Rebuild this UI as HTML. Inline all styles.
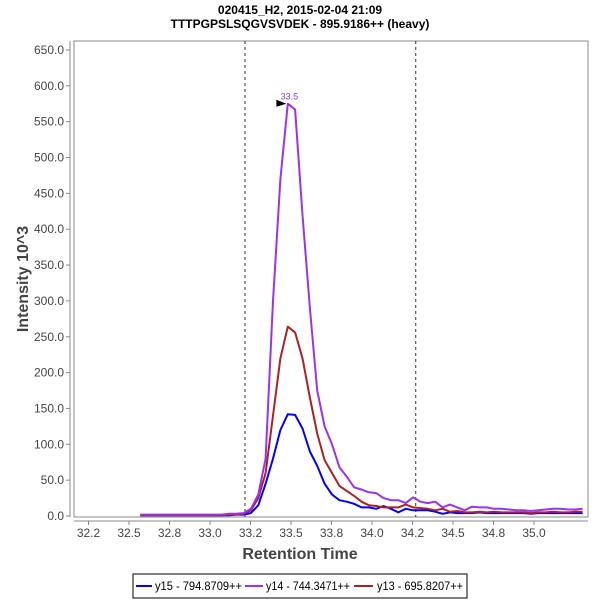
<!DOCTYPE html>
<html><head><meta charset="utf-8"><style>
body{margin:0;background:#fff;}
svg text{font-family:"Liberation Sans",sans-serif;}
</style></head><body>
<svg id="c" width="600" height="600" xmlns="http://www.w3.org/2000/svg">
<text x="300" y="14" text-anchor="middle" font-size="12" font-weight="bold">020415_H2, 2015-02-04 21:09</text>
<text x="300" y="28" text-anchor="middle" font-size="12" font-weight="bold">TTTPGPSLSQGVSVDEK - 895.9186++ (heavy)</text>
<rect x="74" y="41" width="514" height="476" fill="none" stroke="#888"/>
<g id="ax"></g>
<g id="series"></g>
<text x="300" y="559" text-anchor="middle" font-size="16" font-weight="bold" fill="#444">Retention Time</text>
<text transform="translate(28,279) rotate(-90)" text-anchor="middle" font-size="16" font-weight="bold" fill="#444">Intensity 10^3</text>
<g>
<rect x="133" y="574" width="334" height="24" fill="#fff" stroke="#000"/>
<line x1="136" y1="586" x2="152" y2="586" stroke="#0000ff" stroke-width="2"/>
<text x="155" y="590" font-size="12" textLength="87" lengthAdjust="spacingAndGlyphs">y15 - 794.8709++</text>
<line x1="245" y1="586" x2="263" y2="586" stroke="#9933ee" stroke-width="2"/>
<text x="266" y="590" font-size="12" textLength="84" lengthAdjust="spacingAndGlyphs">y14 - 744.3471++</text>
<line x1="354" y1="586" x2="373" y2="586" stroke="#aa2222" stroke-width="2"/>
<text x="377" y="590" font-size="12" textLength="86" lengthAdjust="spacingAndGlyphs">y13 - 695.8207++</text>
</g>
</svg>
<script>
const t0 = 32.57, dt = 0.0455;
const y14 = [2,2,2,2,2,2,2,2,2,2,2,2,3,3,4,10,30,80,300,470,575,567,420,290,175,125,100,68,55,40,37,33,32,25,22,22,18,26,20,18,20,12,16,12,8,13,12,12,10,10,9,8,8,7,8,9,10,10,9,9,10];
const y13 = [1,1,1,1,1,1,1,1,1,1,1,1,2,2,3,8,25,60,140,220,264,256,220,165,115,78,60,42,35,28,20,15,14,12,12,12,16,12,11,10,8,10,6,7,5,5,6,5,6,5,5,5,5,4,5,5,6,5,5,6,6];
const y15 = [1,1,1,1,1,1,1,1,1,1,1,1,1,2,2,4,15,45,80,120,142,141,122,90,70,45,30,22,20,17,12,12,10,14,10,5,10,8,8,8,6,3,5,4,4,4,5,4,4,4,4,4,4,3,4,4,4,4,4,4,4];
const xTicks = [32.25,32.5,32.75,33.0,33.25,33.5,33.75,34.0,34.25,34.5,34.75,35.0];
const xLabels = ["32.2","32.5","32.8","33.0","33.2","33.5","33.8","34.0","34.2","34.5","34.8","35.0"];
const yTicks = [0,50,100,150,200,250,300,350,400,450,500,550,600,650];
const boundaries = [33.216, 34.27];
const peakTime = 33.49, peakVal = 575;
const NS="http://www.w3.org/2000/svg";
function X(t){return 88.5+(t-32.25)*162;}
function Y(v){return 516-v*0.717;}
function mk(tag,attrs,parent){const e=document.createElementNS(NS,tag);for(const k in attrs)e.setAttribute(k,attrs[k]);parent.appendChild(e);return e;}
const ax=document.getElementById('ax'), sg=document.getElementById('series');
mk('line',{x1:70,y1:41,x2:70,y2:517,stroke:'#888'},ax);
mk('line',{x1:74,y1:521,x2:588,y2:521,stroke:'#888'},ax);
yTicks.forEach(v=>{
  mk('line',{x1:66,y1:Y(v),x2:70,y2:Y(v),stroke:'#888'},ax);
  const t=mk('text',{x:64,y:Y(v)+4,'text-anchor':'end','font-size':12,fill:'#444'},ax);
  t.textContent=v.toFixed(1);
  
  
});
xTicks.forEach((v,i)=>{
  mk('line',{x1:X(v),y1:521,x2:X(v),y2:525,stroke:'#888'},ax);
  const t=mk('text',{x:X(v),y:537,'text-anchor':'middle','font-size':12,fill:'#444'},ax);
  t.textContent=xLabels[i];
  
  
});
boundaries.forEach(b=>{
  const l=mk('line',{x1:X(b),y1:41,x2:X(b),y2:517,stroke:'#333','stroke-dasharray':'3,3'},ax);
  
  
});
function series(vals,color,name){
  const pts=vals.map((v,i)=>X(t0+i*dt).toFixed(1)+','+Y(v).toFixed(1)).join(' ');
  const p=mk('polyline',{points:pts,fill:'none',stroke:color,'stroke-width':2,'stroke-linejoin':'round'},sg);
  
  
}
series(y15,'#0000ff','series-y15');
series(y13,'#aa2222','series-y13');
series(y14,'#9933ee','series-y14');
const px=X(peakTime), py=Y(peakVal);
const ar=mk('polygon',{points:`${px-13},${py-4} ${px-3},${py} ${px-13},${py+3}`,fill:'#000'},sg);


const pl=mk('text',{x:px,y:py-4,'text-anchor':'middle','font-size':9,fill:'#9933ee'},sg);
pl.textContent='33.5';


</script>
</body></html>
